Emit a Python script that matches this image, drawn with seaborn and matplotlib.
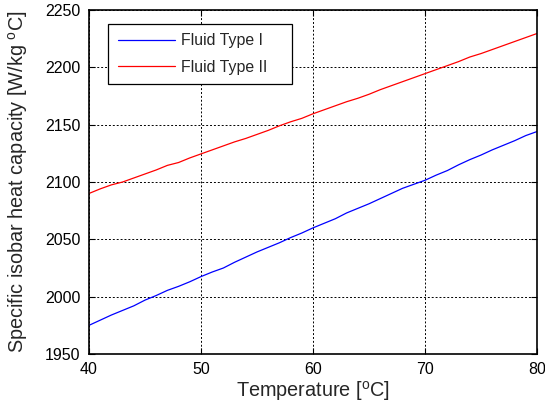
import numpy as np
import pandas as pd
import matplotlib
matplotlib.use("Agg")
import matplotlib.pyplot as plt
import seaborn as sns

temperature = list(range(40, 81))
fluid_1 = [1975, 1979.5, 1984, 1988, 1992, 1997, 2001, 2005.5, 2009, 2013,
           2017.5, 2021.5, 2025, 2030, 2034.5, 2039, 2043, 2047, 2051.5, 2055.5,
           2060, 2064, 2068, 2073, 2077, 2081, 2085.5, 2090, 2094.5, 2098,
           2101.5, 2106, 2110, 2115, 2119.5, 2123.5, 2128, 2132, 2136, 2140.5, 2144]
fluid_2 = [2090, 2094, 2097.5, 2100, 2103.5, 2107, 2110.5, 2114.5, 2117, 2121,
           2124.5, 2128, 2131.5, 2135, 2138, 2141.5, 2145, 2149, 2152.5, 2155.5,
           2159.5, 2163, 2166.5, 2170, 2173, 2176.5, 2180.5, 2184, 2187.5, 2191,
           2194.5, 2198, 2201.5, 2205, 2209, 2212, 2215.5, 2219, 2222.5, 2226, 2229.5]
series_names = ["Fluid Type I", "Fluid Type II"]
colors = ["#0000ff", "#ff0000"]
x_ticks = [40, 50, 60, 70, 80]
y_ticks = [1950, 2000, 2050, 2100, 2150, 2200, 2250]

df = pd.DataFrame({
    "T": temperature * 2,
    "cp": fluid_1 + fluid_2,
    "series": [series_names[0]] * len(temperature) + [series_names[1]] * len(temperature),
})

sns.set_style("ticks")
plt.rcParams["font.family"] = ["Liberation Sans", "DejaVu Sans"]
plt.rcParams["mathtext.fontset"] = "custom"
plt.rcParams["mathtext.rm"] = "Liberation Sans"

fig = plt.figure(figsize=(5.45, 4.13), dpi=100)
ax = fig.add_axes([89 / 545, 1 - 354 / 413, (537 - 89) / 545, (354 - 10) / 413])

sns.lineplot(data=df, x="T", y="cp", hue="series", palette=colors, ax=ax,
             linewidth=0.9, legend=True)

ax.set_xlim(40, 80)
ax.set_ylim(1950, 2250)
ax.set_xticks(x_ticks)
ax.set_yticks(y_ticks)
ax.tick_params(direction="in", top=True, right=True, length=4, width=0.8,
               labelsize=11.5, colors="black", pad=6)
ax.grid(True, color="black", linestyle=(0, (2, 2)), linewidth=0.7)
for s in ax.spines.values():
    s.set_color("black")
    s.set_linewidth(1.2)

ax.set_xlabel(r"Temperature [$^{\rm o}$C]", fontsize=14.3, labelpad=1)
ax.set_ylabel(r"Specific isobar heat capacity [W/kg $^{\rm o}$C]", fontsize=14.3, labelpad=11)

top = 1 - 14 / 344
leg = ax.legend(loc="upper left", bbox_to_anchor=(19 / 448, top - 0.3, 184 / 448, 0.3),
                mode="expand", fontsize=11.4,
                frameon=True, fancybox=False, edgecolor="black", framealpha=1,
                handlelength=3.6, handletextpad=0.38, borderpad=0.6,
                labelspacing=0.7, borderaxespad=0)
leg.get_frame().set_linewidth(0.9)

fig.savefig("out.png", dpi=100)
